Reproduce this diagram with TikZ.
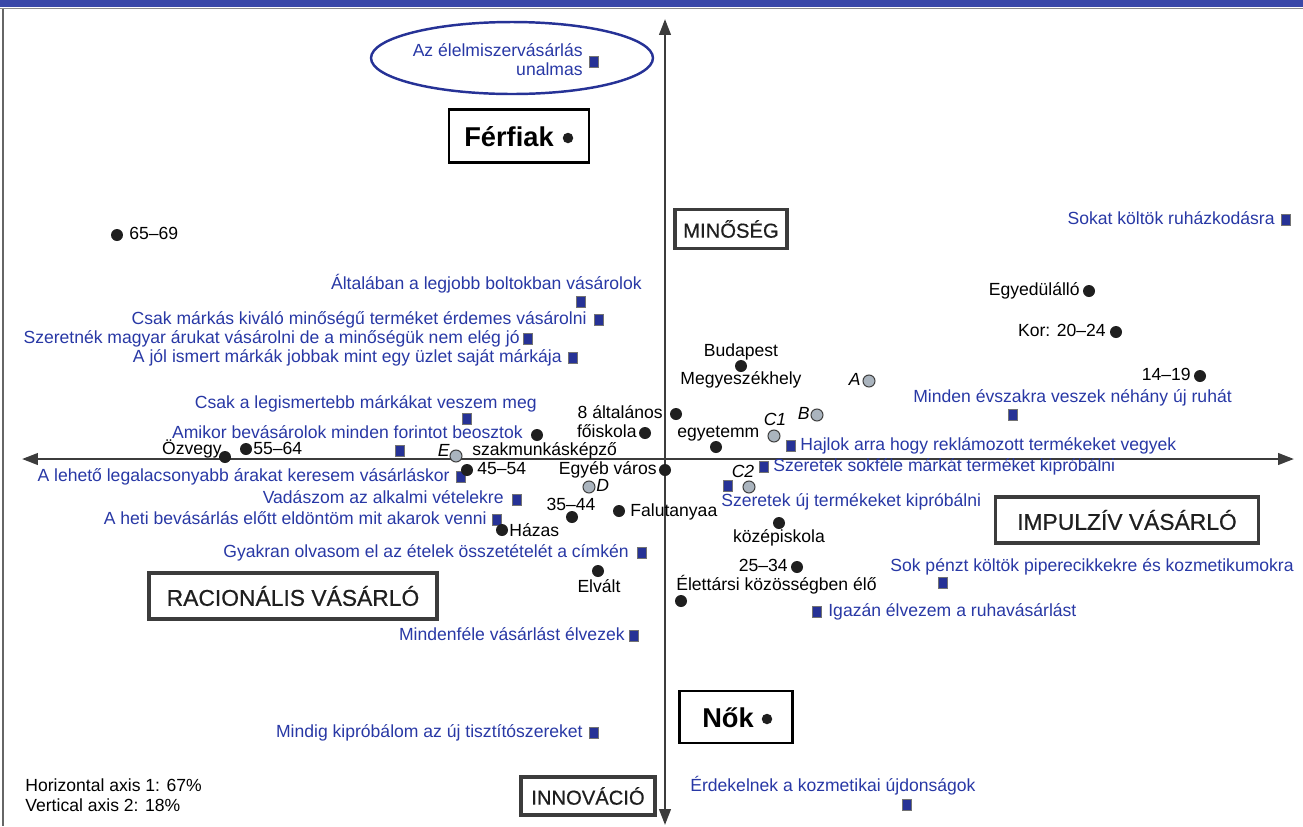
\documentclass[tikz,border=0pt]{standalone}
\usepackage{fontspec}
\setmainfont{Liberation Sans}
\newfontfamily\boxfont[FakeBold=0.6]{Liberation Sans}
\usetikzlibrary{arrows.meta,positioning,shapes.geometric}
\definecolor{txtBlue}{RGB}{40,56,165}
\definecolor{sqBlue}{RGB}{38,50,150}
\definecolor{barBlue}{RGB}{58,72,168}
\definecolor{ptGray}{RGB}{170,180,190}
\definecolor{axGray}{RGB}{60,60,60}

\begin{document}
\begin{tikzpicture}[x=0.02cm,y=-0.02cm,
    lbl/.style={inner sep=0pt,text height=7pt,text depth=2pt,font=\fontsize{10}{12}\selectfont},
    blu/.style={lbl,text=txtBlue},
    sq/.style={fill=sqBlue,draw=black!55,line width=0.4pt,minimum width=0.19cm,minimum height=0.23cm,inner sep=0pt},
    pt/.style={circle,fill=black!88,minimum size=0.24cm,inner sep=0pt},
    gpt/.style={circle,fill=ptGray,draw=black!75,line width=0.6pt,minimum size=0.24cm,inner sep=0pt},
    axbox/.style={draw=axGray,line width=1.8pt,inner sep=0pt,text=black!88},
    sexbox/.style={draw=black,line width=1.2pt,inner sep=0pt},
    sextxt/.style={inner sep=0pt,font=\bfseries\fontsize{15.5}{18}\selectfont},
    axis/.style={axGray,line width=1.4pt,{Triangle[length=9pt,width=6.5pt]}-{Triangle[length=9pt,width=6.5pt]}}
  ]
  \useasboundingbox (0,0) rectangle (1303,826);

  % frame
  \fill[barBlue] (0,0) rectangle (1303,7);
  \draw[black!45,line width=0.6pt] (0,8.5) -- (1303,8.5);
  \draw[black!60,line width=0.8pt] (3,8.5) -- (3,826);

  % axes
  \coordinate (axL) at (22,459);
  \coordinate (axR) at (1294,459);
  \coordinate (axT) at (665,19);
  \coordinate (axB) at (665,825);
  \draw[axis] (axL) -- (axR);
  \draw[axis] (axB) -- (axT);

  % quadrant boxes
  \node[axbox,minimum width=2.24cm,minimum height=0.78cm,font=\boxfont\fontsize{11.5}{13}\selectfont] (minoseg) at (731,229) {MINŐSÉG};
  \node[axbox,minimum width=2.68cm,minimum height=0.76cm,font=\boxfont\fontsize{11.5}{13}\selectfont] (innovacio) at (588,796) {INNOVÁCIÓ};
  \node[axbox,minimum width=5.76cm,minimum height=0.92cm,font=\boxfont\fontsize{13}{15}\selectfont] (racionalis) at (293,596) {RACIONÁLIS VÁSÁRLÓ};
  \node[axbox,minimum width=5.26cm,minimum height=0.92cm,font=\boxfont\fontsize{13}{15}\selectfont] (impulziv) at (1127,520) {IMPULZÍV VÁSÁRLÓ};

  % sexes
  \node[sexbox,minimum width=2.8cm,minimum height=1.06cm] (ferfiak) at (519,136) {};
  \node[sextxt] (ferfiaktxt) at (509,137) {Férfiak};
  \node[pt,minimum size=0.21cm] (ferfiakpt) at (568,138) {};
  \node[sexbox,minimum width=2.26cm,minimum height=1.04cm] (nok) at (736,717) {};
  \node[sextxt] (noktxt) at (728,718) {Nők};
  \node[pt,minimum size=0.21cm] (nokpt) at (767,719) {};

  % ellipse
  \node[ellipse,draw=sqBlue,line width=1.4pt,minimum width=5.64cm,minimum height=1.44cm] (unalom) at (512,58) {};
  \node[blu,anchor=east] (unalom1) at (583,52) {Az élelmiszervásárlás};
  \node[blu,anchor=east] (unalom2) at (583,71) {unalmas};
  \node[sq] (unalomsq) at (594,62) {};

  % statements
  \node[blu,anchor=east] (s1) at (1275,220) {Sokat költök ruházkodásra};
  \node[sq] (s1sq) at (1286,220) {};
  \node[blu,anchor=east] (s2) at (642,285) {Általában a legjobb boltokban vásárolok};
  \node[sq] (s2sq) at (581,302) {};
  \node[blu,anchor=east] (s3) at (587,320) {Csak márkás kiváló minőségű terméket érdemes vásárolni};
  \node[sq] (s3sq) at (599,320) {};
  \node[blu,anchor=east] (s4) at (520,339) {Szeretnék magyar árukat vásárolni de a minőségük nem elég jó};
  \node[sq] (s4sq) at (528,339) {};
  \node[blu,anchor=east] (s5) at (562,358) {A jól ismert márkák jobbak mint egy üzlet saját márkája};
  \node[sq] (s5sq) at (573,358) {};
  \node[blu,anchor=east] (s6) at (537,404) {Csak a legismertebb márkákat veszem meg};
  \node[sq] (s6sq) at (467,419) {};
  \node[blu,anchor=east] (s7) at (523,434) {Amikor bevásárolok minden forintot beosztok};
  \node[sq] (s8sq) at (400,451) {};
  \node[blu,anchor=east] (s9) at (450,477) {A lehető legalacsonyabb árakat keresem vásárláskor};
  \node[sq] (s9sq) at (461,477) {};
  \node[blu,anchor=east] (s10) at (504,499) {Vadászom az alkalmi vételekre};
  \node[sq] (s10sq) at (517,500) {};
  \node[blu,anchor=east] (s11) at (487,520) {A heti bevásárlás előtt eldöntöm mit akarok venni};
  \node[sq] (s11sq) at (497,520) {};
  \node[blu,anchor=east] (s12) at (629,553) {Gyakran olvasom el az ételek összetételét a címkén};
  \node[sq] (s12sq) at (642,553) {};
  \node[blu,anchor=east] (s13) at (625,636) {Mindenféle vásárlást élvezek};
  \node[sq] (s13sq) at (634,636) {};
  \node[blu,anchor=east] (s14) at (583,733) {Mindig kipróbálom az új tisztítószereket};
  \node[sq] (s14sq) at (594,733) {};
  \node[blu,anchor=west] (s15) at (690,787) {Érdekelnek a kozmetikai újdonságok};
  \node[sq] (s15sq) at (907,805) {};
  \node[blu,anchor=west] (s16) at (913,398) {Minden évszakra veszek néhány új ruhát};
  \node[sq] (s16sq) at (1013,415) {};
  \node[sq] (s17sq) at (791,446) {};
  \node[blu,anchor=west] (s17) at (800,446) {Hajlok arra hogy reklámozott termékeket vegyek};
  \node[sq] (s18sq) at (764,467) {};
  \node[blu,anchor=west] (s18) at (773,467) {Szeretek sokféle márkát terméket kipróbálni};
  \node[sq] (s19sq) at (728,486) {};
  \node[blu,anchor=west] (s19) at (721,502) {Szeretek új termékeket kipróbálni};
  \node[blu,anchor=west] (s20) at (890,567) {Sok pénzt költök piperecikkekre és kozmetikumokra};
  \node[sq] (s20sq) at (943,583) {};
  \node[sq] (s21sq) at (817,612) {};
  \node[blu,anchor=west] (s21) at (828,612) {Igazán élvezem a ruhavásárlást};

  % demographics
  \node[pt] (d6569) at (117,235) {};
  \node[lbl,anchor=west] (d6569t) at (129,235) {65–69};
  \node[pt] (dsingle) at (1089,291) {};
  \node[lbl,anchor=east] (dsinglet) at (1080,291) {Egyedülálló};
  \node[pt] (d2024) at (1116,332) {};
  \node[lbl,anchor=east] (d2024t) at (1106,332) {Kor: 20–24};
  \node[pt] (d1419) at (1200,376) {};
  \node[lbl,anchor=east] (d1419t) at (1191,376) {14–19};
  \node[pt] (dbp) at (741,366) {};
  \node[lbl] (dbpt) at (741,352) {Budapest};
  \node[lbl] (dmegyet) at (741,380) {Megyeszékhely};
  \node[pt] (d8alt) at (676,414) {};
  \node[lbl,anchor=east] (d8altt) at (663,414) {8 általános};
  \node[pt] (dfoisk) at (645,433) {};
  \node[lbl,anchor=east] (dfoiskt) at (637,433) {főiskola};
  \node[pt] (degy) at (716,447) {};
  \node[lbl,anchor=west] (degyt) at (677,433) {egyetemm};
  \node[pt] (dbeoszt) at (537,435) {};
  \node[pt] (dozv) at (225,457) {};
  \node[lbl,anchor=east] (dozvt) at (222,450) {Özvegy};
  \node[pt] (d5564) at (246,449) {};
  \node[lbl,anchor=west] (d5564t) at (253,450) {55–64};
  \node[lbl,anchor=west] (dszakt) at (472,451) {szakmunkásképző};
  \node[pt] (d4554) at (467,470) {};
  \node[lbl,anchor=west] (d4554t) at (477,470) {45–54};
  \node[pt] (degyeb) at (665,470) {};
  \node[lbl,anchor=east] (degyebt) at (657,470) {Egyéb város};
  \node[pt] (d3544) at (572,517) {};
  \node[lbl] (d3544t) at (571,506) {35–44};
  \node[pt] (dfalu) at (619,511) {};
  \node[lbl,anchor=west] (dfalut) at (630,512) {Falutanyaa};
  \node[pt] (dhazas) at (502,530) {};
  \node[lbl,anchor=west] (dhazast) at (509,532) {Házas};
  \node[pt] (dkozep) at (779,523) {};
  \node[lbl] (dkozept) at (779,538) {középiskola};
  \node[pt] (d2534) at (797,567) {};
  \node[lbl,anchor=east] (d2534t) at (788,567) {25–34};
  \node[pt] (delvalt) at (598,571) {};
  \node[lbl] (delvaltt) at (599,588) {Elvált};
  \node[pt] (delett) at (681,601) {};
  \node[lbl,anchor=west] (delettt) at (676,586) {Élettársi közösségben élő};

  % clusters
  \node[gpt] (cA) at (869,381) {};
  \node[lbl,anchor=east,font=\itshape\fontsize{10}{12}\selectfont] (cAt) at (861,381) {A};
  \node[gpt] (cB) at (817,415) {};
  \node[lbl,anchor=east,font=\itshape\fontsize{10}{12}\selectfont] (cBt) at (810,415) {B};
  \node[gpt] (cC1) at (774,436) {};
  \node[lbl,font=\itshape\fontsize{10}{12}\selectfont] (cC1t) at (775,421) {C1};
  \node[gpt] (cC2) at (749,487) {};
  \node[lbl,font=\itshape\fontsize{10}{12}\selectfont] (cC2t) at (743,473) {C2};
  \node[gpt] (cD) at (589,487) {};
  \node[lbl,anchor=west,font=\itshape\fontsize{10}{12}\selectfont] (cDt) at (596,487) {D};
  \node[gpt] (cE) at (456,456) {};
  \node[lbl,anchor=east,font=\itshape\fontsize{10}{12}\selectfont] (cEt) at (450,452) {E};

  % explained variance
  \node[lbl,anchor=west] (var1) at (25,787) {Horizontal axis 1: 67\%};
  \node[lbl,anchor=west] (var2) at (25,807) {Vertical axis 2: 18\%};
\end{tikzpicture}
\end{document}
